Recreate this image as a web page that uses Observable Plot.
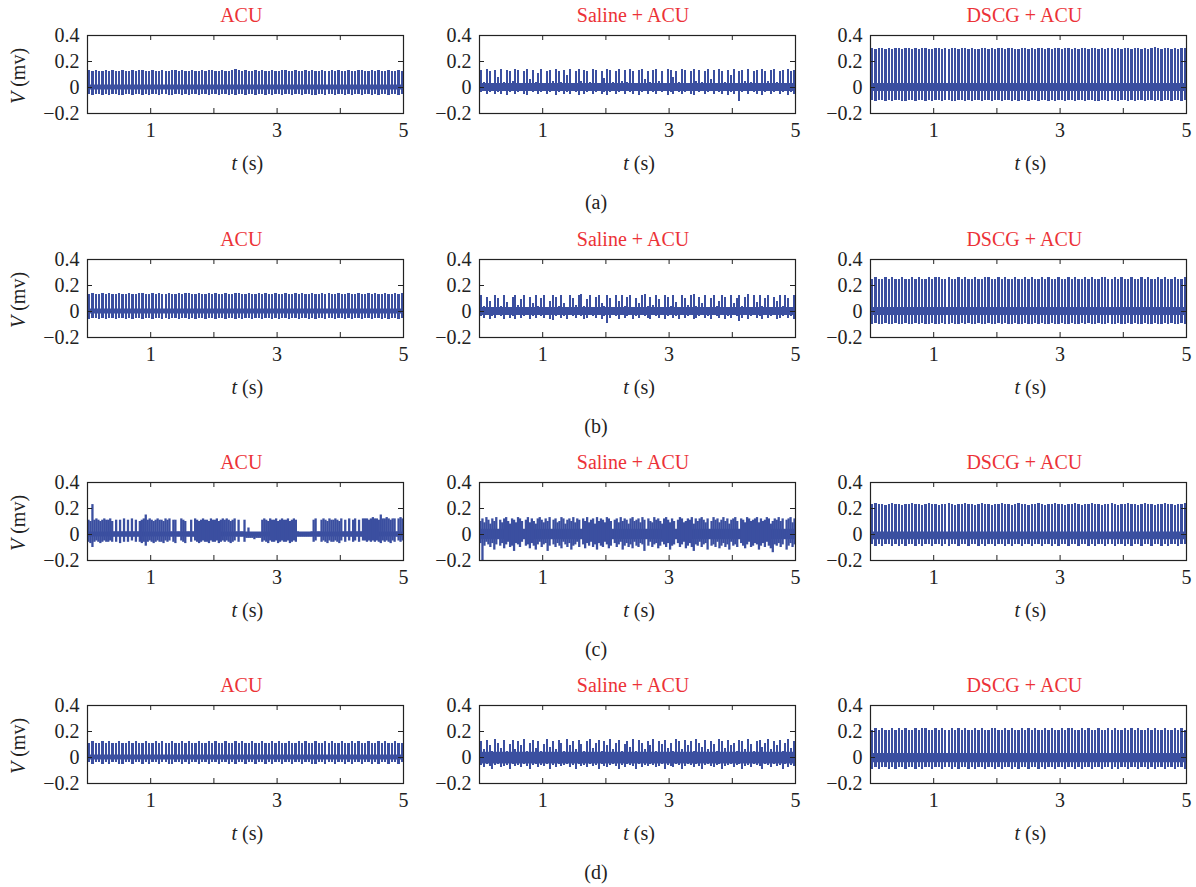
<!DOCTYPE html>
<html><head><meta charset="utf-8">
<script src="https://cdn.jsdelivr.net/npm/d3@7"></script>
<script src="https://cdn.jsdelivr.net/npm/@observablehq/plot@0.6"></script>
<style>
body{margin:0;background:#fff;overflow:hidden;}
#root{position:relative;width:1196px;height:887px;font-family:"Liberation Serif","DejaVu Serif",serif;color:#222;}
.t{position:absolute;white-space:nowrap;transform:translate(-50%,-50%);line-height:1;font-size:20px;}
.ttl{color:#ec3237;}
.p{position:absolute;}
</style></head><body><div id="root"></div><script>
// ---- text ----
const titles = ["ACU", "Saline + ACU", "DSCG + ACU"];
const captions = ["(a)", "(b)", "(c)", "(d)"];
const xTickLabels = [1, 3, 5];
const xTickMarks = [0, 1, 2, 3, 4, 5];
const yTicks = [-0.2, 0, 0.2, 0.4];

// ---- signals: spike peak (hi) and trough (lo) values, in 0.01 mV, one per spike over 0–5 s ----
const aAcuHi = [13,12,13,12,12,13,12,13,12,12,13,12,12,13,12,13,13,12,12,13,12,12,13,12,12,13,13,12,13,12,12,13,12,12,13,12,13,13,12,12,13,12,12,13,14,13,12,13,12,12,13,12,13,12,12,13,12,12,13,13,12,12,13,12,12,13,12,13,12,12,13,12,12,13,12,13,12,12,13,12,12,13,13,12,12,13,12,13,12,12,13,12,12,13,12];
const aAcuLo = [-5,-6,-5,-5,-6,-5,-6,-5,-5,-6,-6,-5,-5,-6,-5,-5,-6,-5,-6,-5,-5,-6,-5,-5,-6,-6,-5,-5,-6,-5,-6,-5,-5,-6,-5,-5,-6,-5,-5,-6,-5,-5,-6,-5,-6,-5,-5,-6,-5,-5,-6,-5,-5,-6,-5,-6,-5,-5,-6,-5,-5,-6,-5,-5,-6,-5,-5,-6,-6,-5,-5,-6,-5,-5,-6,-5,-5,-6,-5,-6,-5,-5,-6,-5,-5,-6,-5,-6,-5,-5,-6,-5,-5,-6,-5];
const aSalHi = [13,4,14,12,3,13,8,14,4,13,12,5,14,13,3,12,14,6,13,4,11,14,3,12,13,5,14,12,4,13,9,14,3,12,14,5,13,12,4,14,13,3,12,7,14,13,4,12,14,5,13,4,14,12,3,13,14,6,12,4,13,14,5,12,3,14,13,8,12,4,14,13,3,12,14,5,13,4,12,14,6,13,3,14,12,4,13,9,14,3,12,13,5,14,4,12,13,3,14,12,5,13,14,4,12,13,3,14,12,13];
const aSalLo = [-4,-3,-5,-4,-3,-5,-4,-5,-3,-6,-4,-3,-5,-4,-3,-5,-6,-3,-4,-3,-5,-4,-3,-5,-4,-3,-6,-4,-3,-5,-4,-5,-3,-4,-6,-3,-5,-4,-3,-5,-4,-3,-5,-4,-6,-4,-3,-5,-4,-3,-5,-3,-4,-5,-3,-6,-4,-3,-5,-3,-4,-5,-3,-4,-3,-6,-4,-5,-3,-4,-5,-4,-3,-5,-6,-3,-4,-3,-5,-4,-3,-5,-3,-4,-5,-3,-6,-4,-5,-3,-11,-4,-3,-5,-3,-4,-5,-3,-6,-4,-3,-5,-4,-3,-5,-4,-3,-6,-4,-5];
const aDscgHi = [30,29,30,30,29,30,29,30,30,29,30,30,29,30,29,30,30,29,29,30,30,29,30,29,30,30,29,30,30,29,30,29,29,30,30,29,30,29,30,30,29,30,30,29,29,30,30,29,30,29,30,30,29,30,29,30,30,29,30,30,29,30,29,30,30,29,30,30,29,30,29,30,30,29,30,29,30,30,29,30,30,29,30,29,30,31,30,29,30,30,29,30,29,30,30];
const aDscgLo = [-10,-11,-10,-10,-11,-10,-11,-10,-10,-11,-11,-10,-10,-11,-10,-10,-11,-10,-11,-10,-10,-11,-10,-10,-11,-11,-10,-10,-11,-10,-11,-10,-10,-11,-10,-10,-11,-10,-10,-11,-10,-10,-11,-10,-11,-10,-10,-11,-10,-10,-11,-10,-10,-11,-10,-11,-10,-10,-11,-10,-10,-11,-10,-10,-11,-10,-10,-11,-11,-10,-10,-11,-10,-10,-11,-10,-10,-11,-10,-11,-10,-10,-11,-10,-10,-11,-10,-11,-10,-10,-11,-10,-10,-11,-10];

const bAcuHi = [13,14,13,13,14,13,14,13,13,14,13,13,14,13,13,14,14,13,13,14,13,14,13,13,14,13,13,14,13,14,14,13,13,14,13,13,14,13,14,13,13,14,13,13,14,14,13,13,14,13,13,14,13,14,13,13,14,13,13,14,13,13,14,13,14,13,13,14,13,13,14,13,14,13,13,14,13,13,14,13,13,14,13,13,14,13,14,13,13,14,13,13,14,13,14];
const bAcuLo = [-6,-5,-5,-6,-5,-6,-5,-5,-6,-5,-5,-6,-5,-6,-5,-5,-6,-5,-5,-6,-5,-5,-6,-5,-6,-5,-5,-6,-5,-5,-6,-5,-6,-5,-5,-6,-5,-5,-6,-5,-5,-6,-5,-5,-6,-5,-6,-5,-5,-6,-5,-5,-6,-5,-5,-6,-5,-6,-5,-5,-6,-5,-5,-6,-5,-5,-6,-5,-6,-5,-5,-6,-5,-5,-6,-5,-5,-6,-5,-6,-5,-5,-6,-5,-5,-6,-5,-5,-6,-5,-6,-5,-5,-6,-5];
const bSalHi = [12,4,11,8,3,12,10,4,12,7,3,11,12,5,9,12,3,11,6,12,4,10,12,3,8,12,11,4,12,6,3,12,10,5,12,13,4,9,12,3,11,12,6,4,12,10,3,12,8,12,4,11,12,3,10,6,12,13,4,11,5,12,9,3,12,11,4,12,7,3,12,10,5,12,13,4,11,6,12,3,10,12,4,8,12,11,3,12,6,10,12,4,11,13,3,12,7,12,4,10,12,3,11,8,12,4,12,10,3,12];
const bSalLo = [-4,-5,-3,-6,-4,-5,-3,-4,-6,-3,-5,-4,-6,-3,-5,-4,-3,-6,-4,-5,-3,-4,-5,-3,-6,-7,-4,-3,-5,-4,-6,-3,-4,-5,-3,-4,-6,-5,-3,-4,-5,-3,-6,-4,-9,-5,-3,-4,-6,-3,-5,-4,-3,-6,-4,-5,-3,-4,-5,-6,-3,-4,-5,-3,-6,-4,-3,-5,-4,-6,-3,-5,-4,-3,-6,-5,-4,-3,-5,-4,-6,-3,-4,-5,-3,-6,-4,-5,-3,-4,-8,-5,-3,-6,-4,-3,-5,-4,-6,-3,-5,-4,-3,-6,-5,-4,-3,-5,-4,-6];
const bDscgHi = [25,26,25,25,26,25,26,25,25,26,25,25,26,25,26,25,25,26,25,26,26,25,25,26,25,25,26,25,26,25,25,26,25,25,26,26,25,25,26,25,26,25,25,26,25,25,26,25,26,25,25,26,25,26,25,25,26,25,25,26,25,26,25,25,26,25,26,25,25,26,26,25,25,26,25,26,25,25,26,25,25,26,25,26,25,25,26,25,26,25,25,26,25,25,26];
const bDscgLo = [-10,-9,-10,-10,-9,-10,-10,-9,-10,-10,-9,-10,-10,-9,-10,-9,-10,-10,-9,-10,-10,-9,-10,-10,-9,-10,-10,-9,-10,-9,-10,-10,-9,-10,-10,-9,-10,-10,-9,-10,-9,-10,-10,-9,-10,-10,-9,-10,-10,-9,-10,-9,-10,-10,-9,-10,-10,-9,-10,-10,-9,-10,-10,-9,-10,-9,-10,-10,-9,-10,-10,-9,-10,-10,-9,-10,-10,-9,-10,-9,-10,-10,-9,-10,-10,-9,-10,-10,-9,-10,-9,-10,-10,-9,-10];

const cAcuHi = [11,10,23,11,12,11,10,11,12,11, 11,12,10,2,11,2,11,2,12,2, 11,2,12,2,11,2,10,11,12,15, 11,12,11,10,11,12,11,11,10,12, 11,12,2,11,11,2,2,12,11,10, 2,2,11,2,12,11,10,11,12,11, 11,10,12,11,11,12,10,11,12,11, 12,11,10,11,12,2,11,2,2,11, 1,5,1,1,1,1,1,1,11,12, 11,10,12,11,11,12,10,11,12,11, 11,12,10,11,12,11,2,1,1,1, 1,1,1,2,11,12,2,2,11,12, 11,10,12,11,11,12,11,10,12,2, 11,2,12,2,11,12,2,11,2,12, 12,12,11,12,13,12,12,11,15,12, 12,13,12,11,12,12,2,12,13,12];
const cAcuLo = [-6,-7,-10,-6,-5,-6,-7,-6,-5,-6, -6,-5,-6,-2,-6,-2,-7,-2,-6,-2, -6,-2,-5,-2,-6,-2,-6,-7,-6,-9, -6,-5,-6,-7,-6,-5,-6,-6,-7,-5, -6,-5,-2,-6,-7,-2,-2,-5,-6,-7, -2,-2,-6,-2,-5,-6,-7,-6,-5,-6, -6,-7,-5,-6,-6,-5,-7,-6,-5,-6, -5,-6,-7,-6,-5,-2,-6,-2,-2,-6, -3,-3,-3,-3,-4,-3,-3,-3,-6,-5, -6,-7,-5,-6,-6,-5,-7,-6,-5,-6, -6,-5,-7,-6,-5,-6,-2,-2,-2,-2, -2,-2,-2,-2,-6,-5,-2,-2,-6,-5, -6,-7,-5,-6,-6,-5,-6,-7,-5,-2, -6,-2,-5,-2,-6,-5,-2,-6,-2,-5, -5,-6,-5,-6,-5,-6,-5,-6,-7,-5, -6,-5,-6,-7,-5,-6,-2,-5,-6,-5];
const cSalHi = [10,12,9,13,11,8,12,10,13,3, 11,9,12,13,10,8,12,11,9,13, 12,10,3,11,13,9,12,10,8,12, 13,11,9,12,10,13,3,11,12,9, 10,13,12,8,11,12,10,13,9,12, 11,3,12,10,13,9,11,12,8,13, 10,12,11,9,13,12,10,3,11,12, 9,13,10,12,11,8,12,13,10,11, 12,9,13,11,3,12,10,9,13,11, 12,10,8,12,13,11,9,12,10,3, 11,13,12,9,10,12,11,13,8,12, 10,12,13,11,9,12,3,10,13,11, 12,9,11,13,10,12,8,11,12,13, 10,3,12,11,9,13,12,10,11,12, 13,9,12,10,11,13,12,8,10,12, 11,13,10,12,3,11,12,13,9,12];
const cSalLo = [-7,-20,-9,-6,-8,-10,-7,-12,-8,-3, -9,-7,-11,-8,-6,-10,-9,-13,-7,-8, -10,-6,-3,-9,-8,-11,-7,-9,-12,-8, -6,-10,-8,-7,-13,-9,-3,-8,-10,-7, -9,-11,-6,-8,-10,-7,-12,-9,-8,-6, -10,-3,-8,-11,-7,-9,-6,-10,-8,-12, -7,-9,-10,-6,-8,-11,-9,-3,-7,-10, -8,-6,-12,-9,-7,-10,-8,-11,-6,-9, -10,-7,-8,-13,-3,-9,-6,-10,-8,-7, -11,-9,-6,-8,-10,-7,-12,-9,-8,-3, -7,-10,-8,-6,-11,-9,-7,-10,-13,-8, -9,-6,-10,-8,-7,-12,-3,-9,-8,-10, -6,-11,-9,-7,-10,-8,-12,-6,-9,-8, -10,-3,-7,-9,-11,-8,-6,-10,-9,-7, -8,-12,-9,-7,-10,-6,-9,-11,-14,-8, -9,-7,-10,-8,-3,-12,-9,-7,-10,-8];
const cDscgHi = [23,24,23,23,22,23,24,23,23,22,23,23,24,23,23,22,23,24,23,23,22,23,23,24,23,22,23,23,24,23,23,22,23,24,23,23,22,23,23,24,23,23,22,23,24,23,23,22,23,23,24,23,22,23,23,24,23,23,22,23,23,24,23,22,23,23,24,23,23,22,23,23,24,23,22,23,23,24,23,23,22,23,24,23,23,22,23,23,24,23,23,22,23,23,24];
const cDscgLo = [-8,-9,-8,-9,-8,-8,-9,-8,-9,-8,-9,-8,-8,-9,-8,-9,-8,-8,-9,-8,-8,-9,-8,-9,-8,-8,-9,-8,-8,-9,-8,-8,-9,-8,-9,-8,-8,-9,-8,-8,-9,-8,-9,-8,-8,-9,-8,-8,-9,-8,-8,-9,-8,-8,-9,-8,-9,-8,-8,-9,-8,-8,-9,-8,-8,-9,-8,-9,-8,-8,-9,-8,-8,-9,-8,-8,-9,-8,-9,-8,-8,-9,-8,-8,-9,-8,-8,-9,-8,-9,-8,-8,-9,-8,-8];

const dAcuHi = [11,12,11,11,12,11,12,11,11,12,11,11,12,11,12,11,11,12,11,11,12,11,12,11,11,12,11,11,12,11,12,11,11,12,11,11,12,11,12,11,11,12,11,11,12,11,12,11,11,12,11,11,12,11,11,12,11,12,11,11,12,11,11,12,11,12,11,11,12,11,11,12,11,12,11,11,12,11,11,12,11,12,11,11,12,11,11,12,11,12,11,11,12,11,11];
const dAcuLo = [-4,-5,-4,-4,-5,-4,-5,-4,-4,-5,-5,-4,-4,-5,-4,-4,-5,-4,-5,-4,-4,-5,-4,-4,-5,-5,-4,-4,-5,-4,-5,-4,-4,-5,-4,-4,-5,-4,-4,-5,-4,-4,-5,-4,-5,-4,-4,-5,-4,-4,-5,-4,-4,-5,-4,-5,-4,-4,-5,-4,-4,-5,-4,-4,-5,-4,-4,-5,-5,-4,-4,-5,-4,-4,-5,-4,-4,-5,-4,-5,-4,-4,-5,-4,-4,-5,-4,-5,-4,-4,-5,-4,-4,-5,-4];
const dSalHi = [12,6,13,9,5,14,11,7,13,5,10,13,6,12,9,14,5,11,13,7,12,5,10,14,8,12,6,13,11,5,14,9,12,6,13,10,5,12,14,7,11,13,5,12,9,14,6,11,13,5,10,12,8,14,5,13,11,6,12,9,14,5,12,10,13,7,11,5,14,12,6,13,9,12,5,14,11,8,13,6,12,10,5,14,12,7,13,9,11,5,13,12,6,14,10,5,12,13,8,11,14,6,12,9,13,5,11,14,7,12];
const dSalLo = [-6,-8,-5,-7,-9,-6,-5,-8,-7,-6,-9,-5,-7,-6,-8,-5,-7,-9,-6,-5,-8,-6,-7,-5,-9,-6,-8,-5,-7,-6,-5,-8,-6,-9,-5,-7,-6,-8,-5,-7,-6,-9,-5,-7,-8,-6,-5,-7,-9,-6,-8,-5,-6,-7,-9,-5,-8,-6,-7,-5,-6,-8,-7,-5,-9,-6,-7,-8,-5,-6,-9,-7,-5,-6,-8,-5,-7,-9,-6,-5,-7,-8,-6,-5,-9,-7,-6,-5,-8,-6,-5,-9,-7,-6,-8,-5,-6,-7,-9,-5,-6,-8,-5,-7,-6,-9,-5,-8,-6,-7];
const dDscgHi = [21,22,21,22,21,21,22,21,22,21,22,21,21,22,21,22,22,21,21,22,21,22,21,21,22,21,22,21,22,21,21,22,21,22,21,21,22,22,21,21,22,21,22,21,21,22,21,22,21,22,21,21,22,21,22,21,21,22,21,22,22,21,21,22,21,22,21,21,22,21,21,22,21,22,21,21,22,21,22,21,22,21,21,22,21,22,21,21,22,21,21,22,21,22,21];
const dDscgLo = [-9,-8,-9,-8,-8,-9,-8,-9,-8,-8,-9,-8,-8,-9,-8,-9,-8,-8,-9,-8,-8,-9,-8,-8,-9,-8,-9,-8,-8,-9,-8,-9,-8,-8,-9,-8,-8,-9,-8,-9,-8,-8,-9,-8,-9,-8,-8,-9,-8,-8,-9,-8,-9,-8,-8,-9,-8,-8,-9,-8,-8,-9,-8,-9,-8,-8,-9,-8,-8,-9,-8,-8,-9,-8,-9,-8,-8,-9,-8,-8,-9,-8,-8,-9,-8,-9,-8,-8,-9,-8,-8,-9,-8,-8,-9];

// baseline noise band [low, high] in 0.01 mV
const baseBands = [
  [[-2,2],[-3,3],[-3,3]],
  [[-2,2],[-3,3],[-3,3]],
  [[-2,2],[-4,4],[-4,2]],
  [[-2,2],[-5,4],[-4,3]]
];
const hiRows = [[aAcuHi,aSalHi,aDscgHi],[bAcuHi,bSalHi,bDscgHi],[cAcuHi,cSalHi,cDscgHi],[dAcuHi,dSalHi,dDscgHi]];
const loRows = [[aAcuLo,aSalLo,aDscgLo],[bAcuLo,bSalLo,bDscgLo],[cAcuLo,cSalLo,cDscgLo],[dAcuLo,dSalLo,dDscgLo]];

// ---- layout ----
const BLUE = "#3b4fa0", INK = "#222";
const FONT = '"Liberation Serif","DejaVu Serif",serif';
const colLeft = [87.3, 479, 870.3], rowTop = [35, 258.5, 481.5, 704.7];
const boxW = 316, boxH = 78;
const ML = 60, MR = 10, MT = 8, MB = 34;
const tickPx = 5;
const root = document.getElementById("root");

function addText(html, x, y, cls, extra) {
  const d = document.createElement("div");
  d.className = "t " + (cls || "");
  d.innerHTML = html;
  d.style.left = x + "px"; d.style.top = y + "px";
  if (extra) Object.assign(d.style, extra);
  root.appendChild(d);
}
const fmtY = d => d === 0 ? "0" : (d < 0 ? "\u2212" : "") + Math.abs(d).toFixed(1);
const fmtX = d => String(d);

for (let r = 0; r < 4; r++) {
  for (let c = 0; c < 3; c++) {
    const hi = hiRows[r][c], lo = loRows[r][c];
    const n = Math.min(hi.length, lo.length);
    const data = d3.range(n).map(i => ({t: (i + 0.5) * 5 / n, hi: hi[i] / 100, lo: lo[i] / 100}));
    const band = baseBands[r][c];
    const dense = r === 2 && c < 2;
    const sw = dense ? 2.3 : (c === 1 ? 2.0 : 2.3);
    const yLen = tickPx * 0.6 / boxH, xLen = tickPx * 5 / boxW;
    const plot = Plot.plot({
      width: boxW + ML + MR, height: boxH + MT + MB,
      marginLeft: ML, marginRight: MR, marginTop: MT, marginBottom: MB,
      x: {domain: [0, 5], ticks: xTickLabels, tickSize: 0, tickPadding: 9, tickFormat: fmtX, label: null},
      y: {domain: [-0.2, 0.4], ticks: yTicks, tickSize: 0, tickPadding: 8, tickFormat: fmtY, label: null},
      style: {fontFamily: FONT, fontSize: "20px", color: INK, background: "transparent", overflow: "visible"},
      marks: [
        Plot.areaY(data, {x: "t", y1: band[0] / 100, y2: band[1] / 100, fill: BLUE}),
        Plot.ruleX(data, {x: "t", y1: "lo", y2: "hi", stroke: BLUE, strokeWidth: sw, shapeRendering: dense ? "auto" : "crispEdges"}),
        Plot.ruleX(xTickMarks, {x: d => d, y1: -0.2, y2: -0.2 + yLen, stroke: INK}),
        Plot.ruleX(xTickMarks, {x: d => d, y1: 0.4, y2: 0.4 - yLen, stroke: INK}),
        Plot.ruleY(yTicks, {y: d => d, x1: 0, x2: xLen, stroke: INK}),
        Plot.ruleY(yTicks, {y: d => d, x1: 5, x2: 5 - xLen, stroke: INK}),
        Plot.frame({stroke: INK, strokeWidth: 1.2})
      ]
    });
    plot.classList.add("p");
    plot.style.left = (colLeft[c] - ML) + "px";
    plot.style.top = (rowTop[r] - MT) + "px";
    root.appendChild(plot);
    const cx = colLeft[c] + boxW / 2;
    addText(titles[c], cx - 4, rowTop[r] - 20, "ttl");
    addText("<i>t</i> (s)", cx + 2, rowTop[r] + boxH + 50);
    if (c === 0) addText("<i>V</i> (mv)", 18, rowTop[r] + boxH / 2 + 2, "", {transform: "translate(-50%,-50%) rotate(-90deg)"});
  }
  addText(captions[r], 596, rowTop[r] + boxH + 89);
}
</script></body></html>
